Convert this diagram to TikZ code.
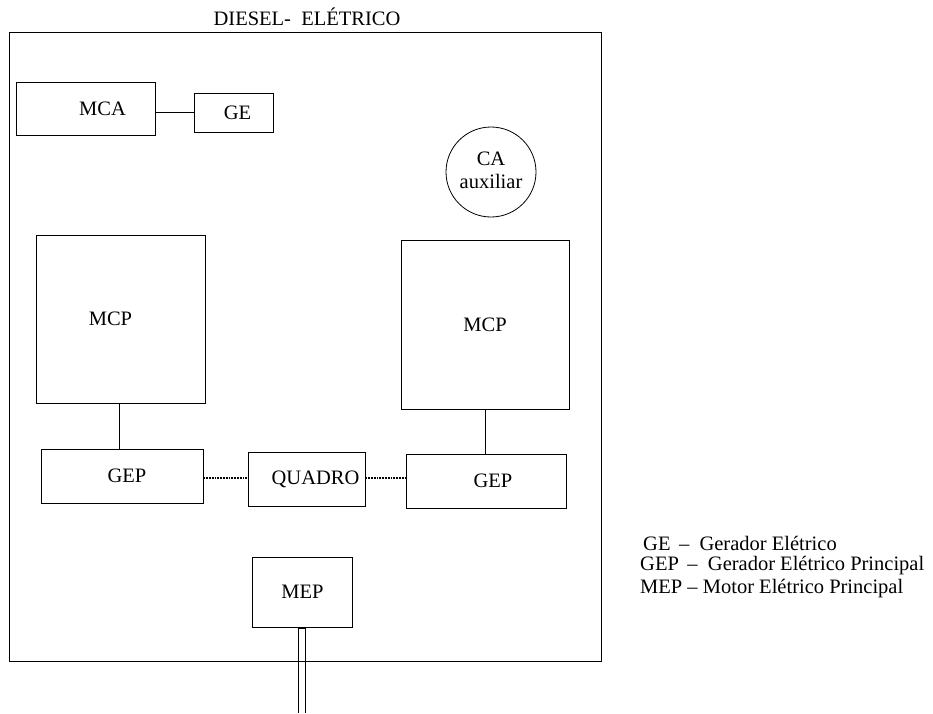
\documentclass[tikz,border=0pt]{standalone}
\usepackage{fontspec}
\setmainfont{Liberation Serif}
\tikzset{
	box/.style={draw, line width=.8pt, inner sep=0pt},
	lnk/.style={line width=.8pt},
	dots/.style={line width=1.8pt, densely dotted}
}
\begin{document}
\begin{tikzpicture}[x=1pt, y=-1pt, font=\fontsize{20.5}{23}\selectfont]

	\useasboundingbox (0,0) rectangle (933,713);

	\draw[line width=.8pt]  (9,32) rectangle (601,661);
	\node (title) at (307,17) {DIESEL-\ \ ELÉTRICO};

	\node[box, minimum width=139pt, minimum height=53pt] (mca) at (85.5,108.5) {\hspace*{34pt}\raisebox{-3pt}{MCA}};
	\node[box, minimum width=79pt, minimum height=39pt] (ge) at (233.5,112.5) {\hspace*{8pt}\raisebox{-4pt}{GE}};
	\draw[lnk]  (mca.east |- 0,112) -- (ge.west |- 0,112);

	\node[box, circle, minimum size=90pt, align=center, inner sep=0pt] (ca) at (491,172) {\raisebox{3pt}{CA}\\\raisebox{3pt}{auxiliar}};

	\node[box, minimum width=169pt, minimum height=168pt] (mcpl) at (120.5,319) {\hspace*{-20pt}\raisebox{-3pt}{MCP}};
	\node[box, minimum width=168pt, minimum height=169pt] (mcpr) at (485,324.5) {\raisebox{-4pt}{MCP}};

	\node[box, minimum width=162pt, minimum height=54pt] (gepl) at (122,476) {\hspace*{10pt}GEP};
	\node[box, minimum width=117pt, minimum height=54pt] (quadro) at (306.5,479) {\hspace*{18pt}QUADRO};
	\node[box, minimum width=160pt, minimum height=54pt] (gepr) at (486,481) {\hspace*{14pt}GEP};

	\draw[lnk]  (119,403) -- (119,449);
	\draw[lnk]  (mcpr.south) -- (mcpr.south |- gepr.north);

	\draw[dots]  (gepl.east |- 0,478) -- (quadro.west |- 0,478);
	\draw[dots]  (quadro.east |- 0,478) -- (gepr.west |- 0,478);

	\node[box, minimum width=100pt, minimum height=70pt] (mep) at (302.5,592) {\raisebox{-10pt}{MEP}};

	\draw[line width=.8pt]  (298,713) -- (298,628) -- (305,628) -- (305,713);

	\node[anchor=west, inner sep=0pt] (legge) at (643,543) {GE \,--\ \ Gerador Elétrico};
	\node[anchor=west, inner sep=0pt] (leggep) at (640,566) {GEP \,--\ \ Gerador Elétrico Principal};
	\node[anchor=west, inner sep=0pt] (legmep) at (640,589) {MEP -- Motor Elétrico Principal};
\end{tikzpicture}
\end{document}
